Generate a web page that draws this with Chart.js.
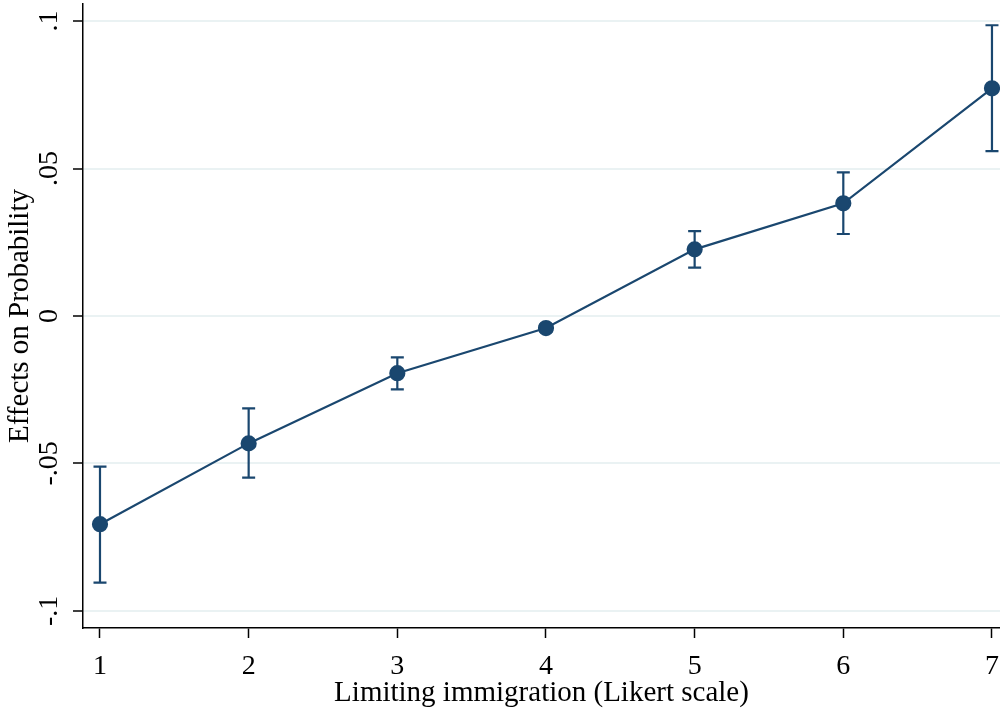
<!DOCTYPE html>
<html>
<head>
<meta charset="utf-8">
<script src="https://cdn.jsdelivr.net/npm/chart.js@4/dist/chart.umd.min.js"></script>
<style>
  html, body { margin: 0; padding: 0; background: #fff; }
  canvas { display: block; }
</style>
</head>
<body>
<canvas id="effectsChart" width="1000" height="713"></canvas>
<script>
// Likert categories and marginal effects with 95% CI
const likert = [1, 2, 3, 4, 5, 6, 7];
const effect = [-0.0706, -0.0432, -0.0194, -0.0041, 0.0226, 0.0382, 0.0772];
const ciLow = [-0.0904, -0.0548, -0.0249, -0.0054, 0.0164, 0.0278, 0.0559];
const ciHigh = [-0.0511, -0.0313, -0.0140, -0.0028, 0.0288, 0.0487, 0.0986];
const yTicks = [-0.1, -0.05, 0, 0.05, 0.1];

const navy = "#1a476f";
const fontFamily = "'Liberation Serif', 'DejaVu Serif', serif";

// draws the confidence interval whiskers
const errorBars = {
  id: "errorBars",
  beforeDatasetsDraw(chart) {
    const { ctx, scales } = chart;
    const x = scales.x, y = scales.y;
    ctx.save();
    ctx.strokeStyle = navy;
    ctx.lineWidth = 2.2;
    likert.forEach((k, i) => {
      const px = x.getPixelForValue(k);
      const top = y.getPixelForValue(ciHigh[i]);
      const bot = y.getPixelForValue(ciLow[i]);
      ctx.beginPath();
      ctx.moveTo(px, top);
      ctx.lineTo(px, bot);
      ctx.moveTo(px - 6.5, top);
      ctx.lineTo(px + 6.5, top);
      ctx.moveTo(px - 6.5, bot);
      ctx.lineTo(px + 6.5, bot);
      ctx.stroke();
    });
    ctx.restore();
  },
};

function fmtTick(v) {
  const r = Math.round(v * 100) / 100;
  if (r === 0) return "0";
  return (r < 0 ? "-" : "") + String(Math.abs(r)).replace(/^0/, "");
}

const ctx = document.getElementById("effectsChart").getContext("2d");
const myChart = new Chart(ctx, {
  type: "line",
  data: {
    datasets: [
      {
        data: likert.map((k, i) => ({ x: k, y: effect[i] })),
        borderColor: navy,
        backgroundColor: navy,
        borderWidth: 2.2,
        pointRadius: 7,
        pointHoverRadius: 7,
        tension: 0,
        clip: false,
      },
    ],
  },
  plugins: [errorBars],
  options: {
    responsive: false,
    animation: false,
    layout: { autoPadding: false, padding: { top: 4, right: 0 } },
    plugins: {
      legend: { display: false },
      tooltip: { enabled: false },
    },
    scales: {
      x: {
        type: "linear",
        min: 0.8857,
        max: 7.054,
        afterBuildTicks: (scale) => {
          scale.ticks = likert.map((v) => ({ value: v }));
        },
        afterFit: (scale) => {
          scale.height = 85;
          scale.paddingLeft = 0;
          scale.paddingRight = 0;
        },
        border: { color: "#000", width: 1.5 },
        grid: {
          drawOnChartArea: false,
          drawTicks: true,
          tickLength: 10,
          tickColor: "#000",
          tickWidth: 1.5,
        },
        ticks: {
          color: "#000",
          font: { family: fontFamily, size: 28 },
          padding: 12,
          maxRotation: 0,
          callback: (v) => String(v),
        },
        title: {
          display: true,
          text: "Limiting immigration (Likert scale)",
          color: "#000",
          font: { family: fontFamily, size: 29 },
          padding: { top: 0, bottom: 2 },
        },
      },
      y: {
        min: -0.1058,
        max: 0.1058,
        afterBuildTicks: (scale) => {
          scale.ticks = yTicks.map((v) => ({ value: v }));
        },
        afterFit: (scale) => {
          scale.width = 83;
          scale.paddingTop = 0;
          scale.paddingBottom = 0;
        },
        border: { color: "#000", width: 1.5 },
        grid: {
          color: "#eaf2f3",
          lineWidth: 2,
          drawTicks: true,
          tickLength: 10,
          tickColor: "#000",
          tickWidth: 1.5,
        },
        ticks: {
          color: "#000",
          font: { family: fontFamily, size: 28 },
          minRotation: 90,
          maxRotation: 90,
          crossAlign: "center",
          padding: 1,
          callback: (v) => fmtTick(v),
        },
        title: {
          display: true,
          text: "Effects on Probability",
          color: "#000",
          font: { family: fontFamily, size: 29 },
          padding: { top: 3, bottom: 0 },
        },
      },
    },
  },
});
</script>
</body>
</html>
